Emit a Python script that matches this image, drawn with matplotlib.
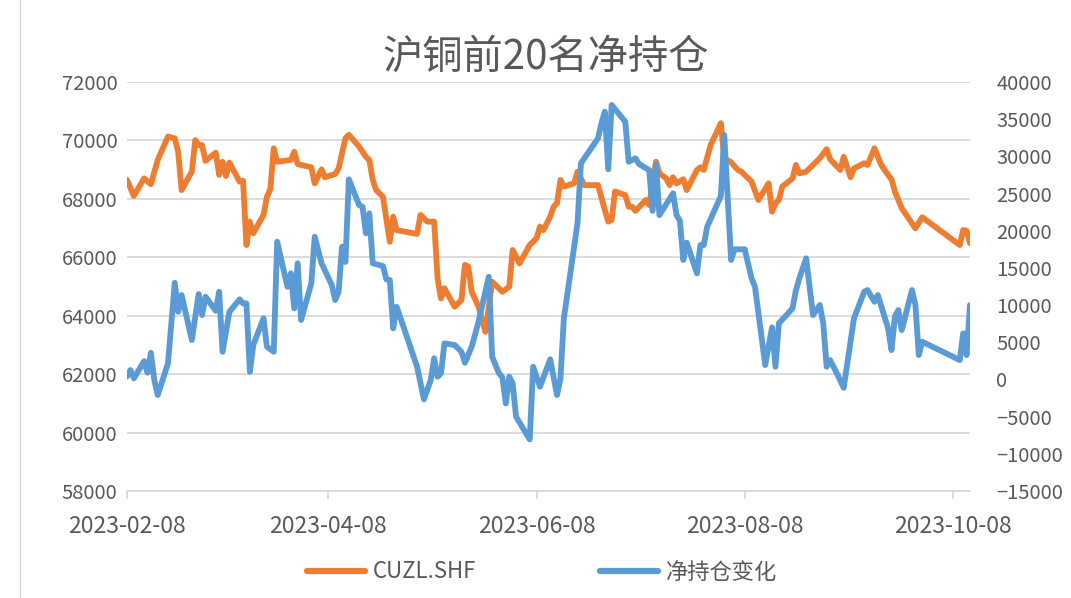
import matplotlib
matplotlib.use('Agg')
import matplotlib.pyplot as plt
import pandas as pd
from matplotlib.lines import Line2D

plt.rcParams['font.family'] = ['Noto Sans CJK SC', 'DejaVu Sans']

TITLE = "沪铜前20名净持仓"
SERIES_NAMES = ["CUZL.SHF", "净持仓变化"]
YEAR = "2023-"

cu_dates = [
    "02-08", "02-10", "02-13", "02-15", "02-17", "02-20", "02-22", "02-23", "02-24", "02-27",
    "02-28", "03-01", "03-02", "03-03", "03-06", "03-07", "03-08", "03-09", "03-10", "03-13",
    "03-14", "03-15", "03-16", "03-17", "03-20", "03-21", "03-22", "03-23", "03-24", "03-28",
    "03-29", "03-30", "04-03", "04-04", "04-06", "04-07", "04-10", "04-11", "04-13", "04-14",
    "04-17", "04-19", "04-20", "04-21", "04-22", "04-24", "04-26", "04-27", "04-28", "05-04",
    "05-05", "05-07", "05-09", "05-10", "05-11", "05-12", "05-15", "05-17", "05-18", "05-19",
    "05-20", "05-22", "05-24", "05-26", "05-29", "05-31", "06-01", "06-03", "06-06", "06-08",
    "06-09", "06-10", "06-12", "06-13", "06-14", "06-15", "06-16", "06-19", "06-20", "06-22",
    "06-26", "06-28", "06-29", "06-30", "07-01", "07-04", "07-05", "07-06", "07-07", "07-10",
    "07-11", "07-13", "07-14", "07-16", "07-17", "07-18", "07-19", "07-21", "07-22", "07-25",
    "07-26", "07-27", "07-29", "08-01", "08-02", "08-04", "08-06", "08-07", "08-09", "08-10",
    "08-12", "08-15", "08-16", "08-17", "08-18", "08-19", "08-22", "08-23", "08-24", "08-26",
    "08-30", "09-01", "09-02", "09-05", "09-06", "09-08", "09-09", "09-12", "09-13", "09-15",
    "09-17", "09-19", "09-20", "09-21", "09-23", "09-27", "09-29", "10-10", "10-11", "10-12",
    "10-13",
]
cu_price = [
    68650, 68100, 68700, 68500, 69330, 70130, 70070, 69610, 68300, 68930,
    70010, 69840, 69840, 69300, 69580, 68820, 69270, 68780, 69240, 68590,
    68620, 66420, 67220, 66820, 67450, 68070, 68330, 69730, 69270, 69330,
    69610, 69190, 69080, 68530, 69010, 68740, 68850, 69040, 70070, 70190,
    69790, 69440, 69330, 68650, 68300, 68070, 66530, 67390, 66930, 66800,
    67450, 67220, 67220, 65280, 64590, 64940, 64310, 64540, 65740, 65680,
    64820, 64310, 63450, 65160, 64820, 64990, 66250, 65790, 66420, 66650,
    67050, 66930, 67390, 67730, 67850, 68650, 68420, 68530, 68930, 68470,
    68470, 67620, 67220, 67280, 68250, 68130, 67730, 67730, 67590, 67960,
    67790, 69270, 68870, 68700, 68470, 68740, 68530, 68670, 68300, 68990,
    69080, 68990, 69840, 70590, 69390, 69250, 68990, 68930, 68700, 68590,
    67960, 68530, 67560, 67850, 67960, 68420, 68700, 69160, 68870, 68930,
    69390, 69700, 69360, 68990, 69440, 68740, 69040, 69220, 69160, 69730,
    69160, 68820, 68670, 68250, 67680, 66990, 67370, 66420, 66930, 66910,
    66480,
]

net_dates = [
    "02-08", "02-09", "02-10", "02-13", "02-14", "02-15", "02-16", "02-17", "02-20", "02-22",
    "02-23", "02-24", "02-27", "03-01", "03-02", "03-03", "03-06", "03-07", "03-08", "03-10",
    "03-13", "03-14", "03-15", "03-16", "03-17", "03-20", "03-21", "03-23", "03-24", "03-27",
    "03-28", "03-29", "03-30", "03-31", "04-03", "04-04", "04-06", "04-09", "04-10", "04-11",
    "04-12", "04-13", "04-14", "04-17", "04-18", "04-19", "04-20", "04-21", "04-24", "04-25",
    "04-26", "04-27", "04-28", "05-04", "05-06", "05-08", "05-09", "05-10", "05-11", "05-12",
    "05-15", "05-17", "05-18", "05-20", "05-22", "05-25", "05-26", "05-28", "05-29", "05-30",
    "05-31", "06-01", "06-02", "06-06", "06-07", "06-09", "06-12", "06-14", "06-15", "06-16",
    "06-19", "06-20", "06-21", "06-26", "06-27", "06-28", "06-29", "06-30", "07-04", "07-05",
    "07-07", "07-08", "07-11", "07-12", "07-13", "07-14", "07-18", "07-19", "07-20", "07-21",
    "07-22", "07-25", "07-26", "07-27", "07-28", "08-01", "08-02", "08-04", "08-05", "08-08",
    "08-10", "08-11", "08-14", "08-16", "08-17", "08-18", "08-22", "08-23", "08-24", "08-26",
    "08-28", "08-30", "08-31", "09-01", "09-02", "09-04", "09-06", "09-09", "09-12", "09-13",
    "09-15", "09-16", "09-19", "09-20", "09-21", "09-22", "09-23", "09-26", "09-27", "09-28",
    "09-29", "10-10", "10-11", "10-12", "10-13",
]
net_change = [
    400, 1265, 150, 2460, 900, 3590, -80, -2100, 2160, 13000,
    9100, 11350, 5300, 11490, 8660, 11120, 9240, 11790, 3720, 9100,
    10770, 10230, 10230, 1030, 4630, 8220, 4400, 3720, 18520, 12470,
    14270, 9560, 15620, 7990, 12920, 19190, 15620, 12700, 10680, 11790,
    17850, 15800, 26910, 23460, 23230, 19650, 22340, 15620, 15250, 13460,
    13370, 6870, 9780, 1710, -2680, -80, 2840, 360, 820, 4850,
    4630, 3720, 2240, 4400, 7760, 13810, 3050, 820, 280, -3220,
    360, -530, -5020, -8060, 1710, -980, 2710, -2100, 150, 8220,
    17850, 21000, 29070, 32430, 34450, 36010, 28260, 36910, 34660, 29280,
    29740, 28970, 28160, 22670, 28970, 22110, 25030, 22110, 21350, 16060,
    18390, 14270, 18080, 18080, 20540, 24670, 32870, 16060, 17500, 17500,
    13600, 12470, 1940, 7000, 1710, 7540, 9560, 12020, 13600, 16290,
    8660, 10010, 7540, 1710, 2610, 820, -1120, 8220, 11790, 12020,
    10450, 11350, 6870, 3950, 8440, 9330, 6640, 12020, 10010, 3280,
    5070, 2610, 6200, 3280, 10010,
]

x_tick_dates = ["02-08", "04-08", "06-08", "08-08", "10-08"]
left_ticks = list(range(58000, 72001, 2000))
right_ticks = list(range(-15000, 40001, 5000))

cu_x = pd.to_datetime([YEAR + d for d in cu_dates])
net_x = pd.to_datetime([YEAR + d for d in net_dates])
xt = pd.to_datetime([YEAR + d for d in x_tick_dates])

ORANGE = '#ED7D31'
BLUE = '#5B9BD5'
TXT = '#595959'
GRID = '#D9D9D9'

W, H = 1071, 598
fig = plt.figure(figsize=(W / 100, H / 100), dpi=100)
L, R, T, B = 127, 970, 82, 491
ax = fig.add_axes([L / W, 1 - B / H, (R - L) / W, (B - T) / H])
ax2 = ax.twinx()

ax.plot(cu_x, cu_price, color=ORANGE, lw=4.2, solid_joinstyle='round',
        solid_capstyle='round', label=SERIES_NAMES[0])
ax2.plot(net_x, net_change, color=BLUE, lw=4.2, solid_joinstyle='round',
         solid_capstyle='round', label=SERIES_NAMES[1])

ax.set_ylim(left_ticks[0], left_ticks[-1])
ax.set_yticks(left_ticks)
ax2.set_ylim(right_ticks[0], right_ticks[-1])
ax2.set_yticks(right_ticks)
ax.set_xlim(cu_x[0], cu_x[-1])
ax.set_xticks(xt)
ax.set_xticklabels([d.strftime('%Y-%m-%d') for d in xt])

ax.grid(axis='y', color=GRID, lw=1.3)
ax.grid(axis='x', visible=False)
ax.set_axisbelow(True)
for a in (ax, ax2):
    for s in ('top', 'left', 'right'):
        a.spines[s].set_visible(False)
ax2.spines['bottom'].set_visible(False)
ax.spines['bottom'].set_color(GRID)
ax.spines['bottom'].set_linewidth(1.3)

ax.tick_params(axis='x', color=GRID, width=1.3, length=6, labelcolor=TXT,
               labelsize=16.5, pad=11)
ax.tick_params(axis='y', length=0, labelcolor=TXT, labelsize=14.5, pad=7)
ax2.tick_params(axis='y', length=0, labelcolor=TXT, labelsize=14.5, pad=19)

fig.text(546 / W, 1 - 57 / H, TITLE, ha='center', va='center',
         fontsize=29, color=TXT)

handles = [Line2D([0], [0], color=ORANGE, lw=4.5, solid_capstyle='round'),
           Line2D([0], [0], color=BLUE, lw=4.5, solid_capstyle='round')]
leg = fig.legend(handles, SERIES_NAMES, loc='center', ncol=2, frameon=False,
                 bbox_to_anchor=(0.506, 1 - 572 / H), fontsize=16,
                 handlelength=2.6, handletextpad=0.35, columnspacing=5.6)
for t in leg.get_texts():
    t.set_color(TXT)

fig.add_artist(Line2D([20 / W, 20 / W], [0, 1], color=GRID, lw=1.0))

fig.savefig('out.png', dpi=100)
